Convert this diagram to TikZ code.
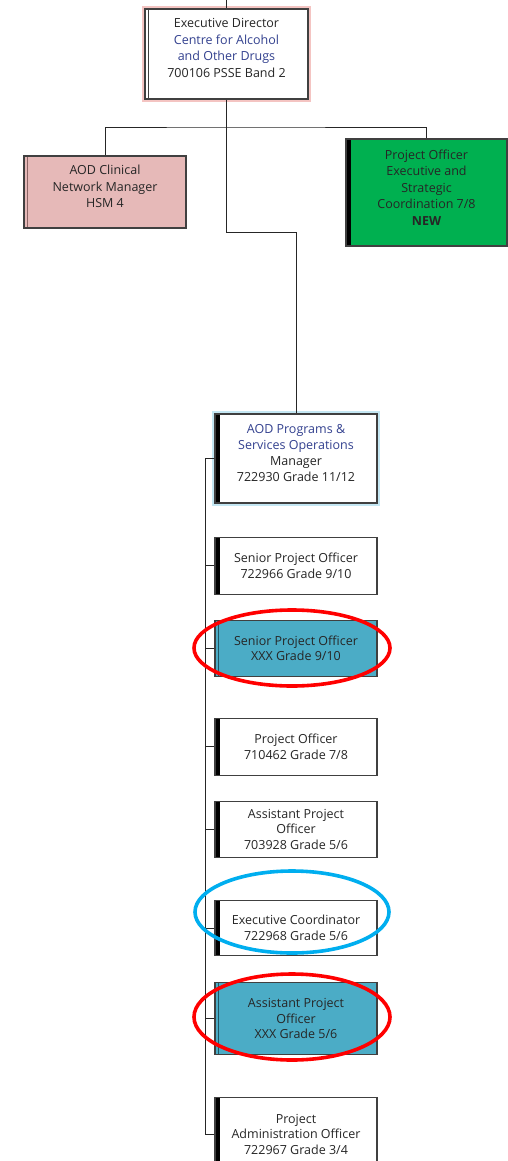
\documentclass[tikz,border=0pt]{standalone}
\usepackage{fontspec}
\setmainfont{Open Sans}
\usepackage{xcolor}
\usepackage{tikz}
\usetikzlibrary{positioning}
\definecolor{Frame}{HTML}{404040}
\definecolor{Ink}{HTML}{262626}
\definecolor{Navy}{HTML}{33418F}
\definecolor{Rose}{HTML}{E6B9B8}
\definecolor{RoseBar}{HTML}{8C6464}
\definecolor{Leaf}{HTML}{00B050}
\definecolor{Teal}{HTML}{4BACC6}
\definecolor{TealBar}{HTML}{1E5866}
\definecolor{PinkGlow}{HTML}{F4C4C2}
\definecolor{SkyGlow}{HTML}{C4E7F3}
\definecolor{Ring}{HTML}{00AEEF}

\begin{document}
\begin{tikzpicture}[x=1pt,y=-1pt,
  font=\fontsize{12.5}{15.5}\selectfont,
  rolebox/.style={draw=Frame,line width=1.1pt,fill=white,text=Ink,align=center,inner sep=0pt,minimum width=162pt},
  tallbox/.style={rolebox,font=\fontsize{12.5}{16.5}\selectfont},
  blackbar/.style={path picture={\fill[black] (path picture bounding box.north west) rectangle ([xshift=4.5pt]path picture bounding box.south west);}},
  thinbar/.style={path picture={\draw[#1,line width=0.9pt] ([xshift=3.5pt]path picture bounding box.north west) -- ([xshift=3.5pt]path picture bounding box.south west);}},
  glow/.style={preaction={draw=#1,line width=6pt}},
  conn/.style={draw=Ink,line width=0.9pt},
  ring/.style={line width=3.6pt}]
  \useasboundingbox (0,0) rectangle (508,1161);
  % top of the tree
  \node[tallbox,thinbar=Frame,glow=PinkGlow,minimum width=163pt,minimum height=90pt] (dir) at (226.5,54)
    {Executive Director\\\textcolor{Navy}{Centre for Alcohol}\\\textcolor{Navy}{and Other Drugs}\\700106 PSSE Band 2\\[-4pt]};
  \node[tallbox,fill=Rose,thinbar=RoseBar,minimum height=72pt] (clin) at (105,192) {AOD Clinical\\Network Manager\\HSM 4\\[-6pt]};
  \node[tallbox,fill=Leaf,blackbar,minimum width=161pt,minimum height=107pt,text=black!85] (exec) at (426.5,192.5)
    {Project Officer\\Executive and\\Strategic\\Coordination 7/8\\\textbf{NEW}\\[-6pt]};
  \node[tallbox,blackbar,glow=SkyGlow,minimum height=89pt,font=\fontsize{12.5}{16}\selectfont] (mgr) at (296,458.5)
    {\textcolor{Navy}{AOD Programs \&}\\\textcolor{Navy}{Services Operations}\\Manager\\722930 Grade 11/12\\[-4pt]};
  % team under the manager
  \node[rolebox,blackbar,minimum height=57pt,below=33pt of mgr] (spo1) {Senior Project Officer\\722966 Grade 9/10};
  \node[rolebox,fill=Teal,thinbar=TealBar,minimum height=56pt,below=25pt of spo1] (spo2) {Senior Project Officer\\XXX Grade 9/10};
  \node[rolebox,blackbar,minimum height=57pt,below=41pt of spo2] (po) {Project Officer\\710462 Grade 7/8};
  \node[rolebox,blackbar,minimum height=56pt,below=25pt of po] (apo1) {Assistant Project\\Officer\\703928 Grade 5/6};
  \node[rolebox,blackbar,minimum height=55pt,below=42pt of apo1] (ec) {Executive Coordinator\\722968 Grade 5/6};
  \node[rolebox,fill=Teal,thinbar=TealBar,minimum height=72pt,below=26pt of ec] (apo2) {Assistant Project\\Officer\\XXX Grade 5/6};
  \node[rolebox,blackbar,minimum height=73pt,below=42pt of apo2] (pao) {Project\\Administration Officer\\722967 Grade 3/4};

  \coordinate (above) at (226.5,0);
  \coordinate (bus) at (226.5,127);
  \coordinate (bend) at (226.5,232);
  \draw[conn] (above) -- (dir.north);
  \draw[conn] (dir.south) -- (bus);
  \draw[conn] (clin.north) |- (bus) -| (exec.north);
  \draw[conn] (bus) -- (bend) -| (mgr.north);
  \foreach \b in {spo1,spo2,po,apo1,ec,apo2,pao}
    \draw[conn] (mgr.west) -- ++(-9,0) |- (\b.west);

  % highlight rings
  \draw[ring,red] (292,648) ellipse [x radius=98pt,y radius=38pt];
  \draw[ring,Ring] (292,912) ellipse [x radius=97pt,y radius=41pt];
  \draw[ring,red] (292,1017) ellipse [x radius=98pt,y radius=43pt];
\end{tikzpicture}
\end{document}
